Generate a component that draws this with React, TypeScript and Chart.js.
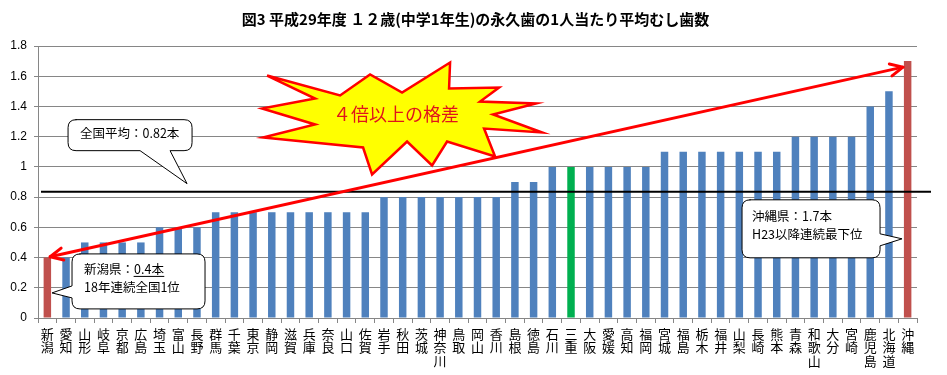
import React, { useEffect, useRef } from 'react';
import { Chart, registerables } from 'chart.js';

Chart.register(...registerables);

const TITLE = '図3 平成29年度 １２歳(中学1年生)の永久歯の1人当たり平均むし歯数';

const PREFECTURES = [
  '新潟', '愛知', '山形', '岐阜', '京都', '広島', '埼玉', '富山', '長野', '群馬',
  '千葉', '東京', '静岡', '滋賀', '兵庫', '奈良', '山口', '佐賀', '岩手', '秋田',
  '茨城', '神奈川', '鳥取', '岡山', '香川', '島根', '徳島', '石川', '三重', '大阪',
  '愛媛', '高知', '福岡', '宮城', '福島', '栃木', '福井', '山梨', '長崎', '熊本',
  '青森', '和歌山', '大分', '宮崎', '鹿児島', '北海道', '沖縄',
];

const DMFT = [
  0.4, 0.4, 0.5, 0.5, 0.5, 0.5, 0.6, 0.6, 0.6, 0.7,
  0.7, 0.7, 0.7, 0.7, 0.7, 0.7, 0.7, 0.7, 0.8, 0.8,
  0.8, 0.8, 0.8, 0.8, 0.8, 0.9, 0.9, 1.0, 1.0, 1.0,
  1.0, 1.0, 1.0, 1.1, 1.1, 1.1, 1.1, 1.1, 1.1, 1.1,
  1.2, 1.2, 1.2, 1.2, 1.4, 1.5, 1.7,
];

const RED_PREFS = ['新潟', '沖縄'];
const GREEN_PREFS = ['三重'];

const Y_MIN = 0;
const Y_MAX = 1.8;
const Y_STEP = 0.2;

const NATIONAL_AVG_LABEL = '全国平均：0.82本';
const AVG_LINE_LEVEL = 0.835;
const BURST_TEXT = '４倍以上の格差';
const NIIGATA_LINE1 = '新潟県：';
const NIIGATA_LINE1_UNDERLINED = '0.4本';
const NIIGATA_LINE2 = '18年連続全国1位';
const OKINAWA_LINE1 = '沖縄県：1.7本';
const OKINAWA_LINE2 = 'H23以降連続最下位';

const BLUE = '#4F81BD';
const RED = '#C0504D';
const GREEN = '#00B050';
const GRID = '#868686';
const JP = "'Noto Sans CJK JP', 'Noto Sans', sans-serif";

const annotationPlugin = {
  id: 'annotations',
  afterDraw(chart: any) {
    const { ctx, chartArea, scales } = chart;
    const xs = scales.x;
    const ys = scales.y;
    const P = (i: number, v: number): [number, number] => [xs.getPixelForValue(i), ys.getPixelForValue(v)];

    ctx.save();

    // Title
    ctx.fillStyle = '#000';
    ctx.font = `bold 15px ${JP}`;
    ctx.textAlign = 'center';
    ctx.textBaseline = 'middle';
    ctx.fillText(TITLE, chart.width / 2 + 2, 19);

    // National average line
    const avgY = ys.getPixelForValue(AVG_LINE_LEVEL);
    ctx.strokeStyle = '#000';
    ctx.lineWidth = 2;
    ctx.beginPath();
    ctx.moveTo(chartArea.left + 3, avgY);
    ctx.lineTo(chartArea.right + 14, avgY);
    ctx.stroke();

    // Double-headed arrow from lowest to highest
    const [ax0, ay0] = P(0.15, 0.405);
    const [ax1, ay1] = P(45.75, 1.66);
    ctx.strokeStyle = '#FF0000';
    ctx.lineWidth = 3;
    ctx.lineCap = 'round';
    ctx.lineJoin = 'round';
    ctx.beginPath();
    ctx.moveTo(ax0, ay0);
    ctx.lineTo(ax1, ay1);
    ctx.stroke();
    const ang = Math.atan2(ay1 - ay0, ax1 - ax0);
    const head = (tx: number, ty: number, a: number) => {
      const L = 14;
      const spread = 0.45;
      ctx.beginPath();
      ctx.moveTo(tx + L * Math.cos(a + spread), ty + L * Math.sin(a + spread));
      ctx.lineTo(tx, ty);
      ctx.lineTo(tx + L * Math.cos(a - spread), ty + L * Math.sin(a - spread));
      ctx.stroke();
    };
    head(ax0, ay0, ang);
    head(ax1, ay1, ang + Math.PI);

    // Starburst
    const [bx, by] = P(18.86, 1.34);
    const burst = [
      [-133, -40], [-60, -20], [-30, -41], [2, -23], [50, -53], [49, -27], [99, -28], [80, -14],
      [136, -12], [93, -1], [142, 17], [84, 13], [95, 41], [47, 26], [32, 50], [7, 26],
      [-28, 59], [-37, 32], [-137, 22], [-85, 9], [-138, -7], [-85, -17],
    ];
    ctx.beginPath();
    burst.forEach(([dx, dy], k) => {
      if (k === 0) ctx.moveTo(bx + dx, by + dy);
      else ctx.lineTo(bx + dx, by + dy);
    });
    ctx.closePath();
    ctx.fillStyle = '#FFFF00';
    ctx.fill();
    ctx.lineWidth = 2.5;
    ctx.lineJoin = 'miter';
    ctx.strokeStyle = '#FF0000';
    ctx.stroke();
    ctx.fillStyle = '#E0141B';
    ctx.font = `18px ${JP}`;
    ctx.textAlign = 'center';
    ctx.textBaseline = 'middle';
    ctx.fillText(BURST_TEXT, bx - 4, by - 1);

    // Callouts
    const callout = (
      tip: [number, number],
      box: [number, number, number, number],
      tail: 'bottom' | 'left' | 'right',
      base: [number, number],
    ) => {
      const [tx, ty] = tip;
      const x0 = tx + box[0];
      const x1 = tx + box[1];
      const y0 = ty + box[2];
      const y1 = ty + box[3];
      const r = 8;
      ctx.beginPath();
      ctx.moveTo(x0 + r, y0);
      ctx.lineTo(x1 - r, y0);
      ctx.quadraticCurveTo(x1, y0, x1, y0 + r);
      if (tail === 'right') {
        ctx.lineTo(x1, ty + base[0]);
        ctx.lineTo(tx, ty);
        ctx.lineTo(x1, ty + base[1]);
      }
      ctx.lineTo(x1, y1 - r);
      ctx.quadraticCurveTo(x1, y1, x1 - r, y1);
      if (tail === 'bottom') {
        ctx.lineTo(tx + base[1], y1);
        ctx.lineTo(tx, ty);
        ctx.lineTo(tx + base[0], y1);
      }
      ctx.lineTo(x0 + r, y1);
      ctx.quadraticCurveTo(x0, y1, x0, y1 - r);
      if (tail === 'left') {
        ctx.lineTo(x0, ty + base[1]);
        ctx.lineTo(tx, ty);
        ctx.lineTo(x0, ty + base[0]);
      }
      ctx.lineTo(x0, y0 + r);
      ctx.quadraticCurveTo(x0, y0, x0 + r, y0);
      ctx.closePath();
      ctx.fillStyle = '#FFFFFF';
      ctx.fill();
      ctx.strokeStyle = '#000000';
      ctx.lineWidth = 1;
      ctx.stroke();
      return { x0, y0, x1, y1 };
    };

    ctx.font = `12.5px ${JP}`;
    ctx.textAlign = 'left';
    ctx.textBaseline = 'middle';

    const c1 = callout(P(7.47, 0.889), [-119, 5, -64, -33], 'bottom', [-47, -17]);
    ctx.fillStyle = '#000';
    ctx.fillText(NATIONAL_AVG_LABEL, c1.x0 + 12, c1.y0 + 14);

    const c2 = callout(P(0.25, 0.166), [20, 153, -39, 16], 'left', [-7, 5]);
    ctx.fillStyle = '#000';
    ctx.fillText(NIIGATA_LINE1, c2.x0 + 12, c2.y0 + 15);
    const w1 = ctx.measureText(NIIGATA_LINE1).width;
    ctx.fillText(NIIGATA_LINE1_UNDERLINED, c2.x0 + 12 + w1, c2.y0 + 15);
    const w2 = ctx.measureText(NIIGATA_LINE1_UNDERLINED).width;
    ctx.beginPath();
    ctx.lineWidth = 1;
    ctx.moveTo(c2.x0 + 12 + w1, c2.y0 + 22.5);
    ctx.lineTo(c2.x0 + 12 + w1 + w2, c2.y0 + 22.5);
    ctx.stroke();
    ctx.fillText(NIIGATA_LINE2, c2.x0 + 12, c2.y0 + 33);

    const c3 = callout(P(45.7, 0.524), [-160, -22, -39, 19], 'right', [-5, 7]);
    ctx.fillStyle = '#000';
    ctx.fillText(OKINAWA_LINE1, c3.x0 + 10, c3.y0 + 16);
    ctx.fillText(OKINAWA_LINE2, c3.x0 + 10, c3.y0 + 34);

    ctx.restore();
  },
};

export default function App() {
  const canvasRef = useRef<HTMLCanvasElement | null>(null);

  useEffect(() => {
    document.body.style.margin = '0';
    const canvas = canvasRef.current;
    if (!canvas) return;
    const colors = PREFECTURES.map((p) =>
      RED_PREFS.includes(p) ? RED : GREEN_PREFS.includes(p) ? GREEN : BLUE,
    );
    const chart = new Chart(canvas, {
      type: 'bar',
      data: {
        labels: PREFECTURES.map((p) => p.split('')),
        datasets: [
          {
            data: DMFT,
            backgroundColor: colors,
            borderWidth: 0,
            barPercentage: 0.4,
            categoryPercentage: 1,
          },
        ],
      },
      options: {
        animation: false,
        responsive: false,
        devicePixelRatio: 1,
        layout: { padding: { top: 46, right: 30, left: 0, bottom: 0 } },
        plugins: {
          legend: { display: false },
          title: { display: false },
          tooltip: { enabled: false },
        },
        scales: {
          x: {
            grid: {
              display: true,
              drawOnChartArea: false,
              drawTicks: true,
              tickLength: 5,
              color: GRID,
              offset: true,
            },
            border: { display: true, color: GRID, width: 1 },
            ticks: {
              autoSkip: false,
              maxRotation: 0,
              minRotation: 0,
              padding: 4,
              color: '#000',
              font: { family: JP, size: 13, lineHeight: 1.04 },
            },
            afterFit: (s: any) => {
              s.height = 57;
            },
          },
          y: {
            min: Y_MIN,
            max: Y_MAX,
            grid: { color: GRID, tickLength: 4, lineWidth: 1 },
            border: { display: true, color: GRID, width: 1 },
            ticks: {
              stepSize: Y_STEP,
              padding: 7,
              color: '#000',
              font: { family: "'Liberation Sans', Arial, sans-serif", size: 12 },
              callback: (v: any) => String(Math.round(Number(v) * 10) / 10),
            },
            afterFit: (s: any) => {
              s.width = 38;
            },
          },
        },
      },
      plugins: [annotationPlugin],
    });
    return () => chart.destroy();
  }, []);

  return (
    <div style={{ position: 'absolute', left: 0, top: 0, width: 947, height: 375, background: '#fff' }}>
      <canvas ref={canvasRef} width={947} height={375} style={{ display: 'block', width: 947, height: 375 }} />
    </div>
  );
}
